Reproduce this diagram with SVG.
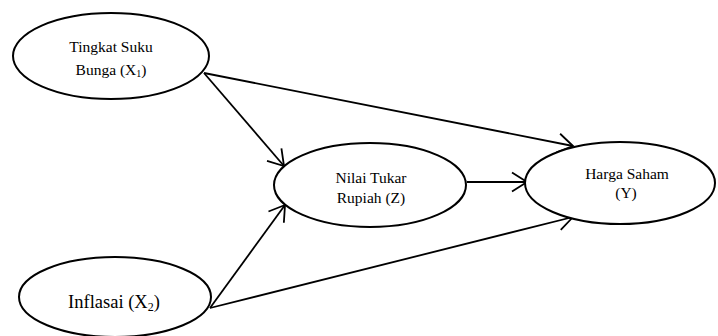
<svg xmlns="http://www.w3.org/2000/svg" width="718" height="336" viewBox="0 0 718 336">
<style>
.node ellipse{fill:#fff;stroke:#000;stroke-width:2}
.t{font-family:"Liberation Serif","Times New Roman",serif;font-size:15.5px;fill:#000;text-anchor:middle}
.big{font-size:18.5px}
.conn line{stroke:#000;stroke-width:1.8;marker-end:url(#arr)}
</style>
<defs>
<marker id="arr" markerUnits="userSpaceOnUse" viewBox="-17 -11 19 22" markerWidth="19" markerHeight="22" refX="0" refY="0" orient="auto" overflow="visible">
<path d="M-15,-9.5 L0,0 L-15,9.5" fill="none" stroke="#000" stroke-width="1.8"/>
</marker>
</defs>
<rect width="718" height="336" fill="#fff"/>
<g class="conn" id="connectors">
<line x1="204" y1="73" x2="284" y2="166"/>
<line x1="204" y1="73" x2="573" y2="146"/>
<line x1="467" y1="182" x2="527" y2="182"/>
<line x1="210" y1="308" x2="285" y2="205"/>
<line x1="210" y1="308" x2="573" y2="217"/>
</g>
<g class="node" id="x1">
<ellipse cx="111" cy="56" rx="98" ry="43"/>
<text class="t" x="111" y="52">Tingkat Suku</text>
<text class="t" x="111" y="75">Bunga (X<tspan font-size="10" dy="2">1</tspan><tspan dy="-2">)</tspan></text>
</g>
<g class="node" id="x2">
<ellipse cx="115" cy="297" rx="96" ry="40"/>
<text class="t big" x="114" y="308">Inflasai (X<tspan font-size="12" dy="3">2</tspan><tspan dy="-3">)</tspan></text>
</g>
<g class="node" id="z">
<ellipse cx="370" cy="185" rx="96" ry="42"/>
<text class="t" x="371" y="183">Nilai Tukar</text>
<text class="t" x="371" y="203">Rupiah (Z)</text>
</g>
<g class="node" id="y">
<ellipse cx="620" cy="183" rx="95" ry="41"/>
<text class="t" x="627" y="179">Harga Saham</text>
<text class="t" x="626" y="198">(Y)</text>
</g>
</svg>
